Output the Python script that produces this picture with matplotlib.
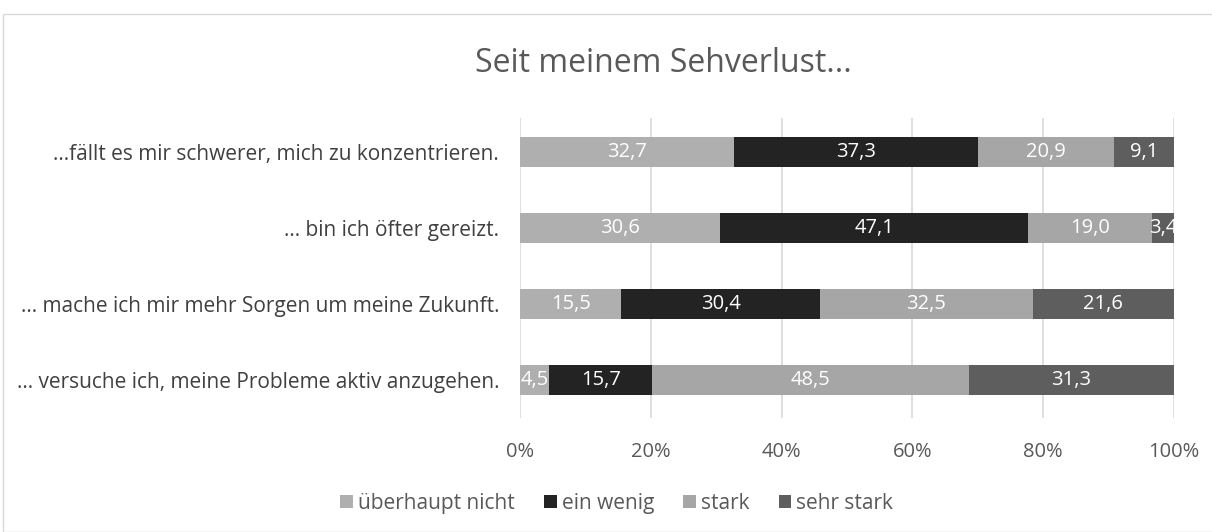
import numpy as np
import matplotlib.pyplot as plt
from matplotlib.patches import Rectangle

plt.rcParams['font.family'] = ['Open Sans', 'DejaVu Sans']

categories = [
    '…fällt es mir schwerer, mich zu konzentrieren.',
    '… bin ich öfter gereizt.',
    '… mache ich mir mehr Sorgen um meine Zukunft.',
    '… versuche ich, meine Probleme aktiv anzugehen.',
]
series_names = ['überhaupt nicht', 'ein wenig', 'stark', 'sehr stark']
ueberhaupt_nicht = [32.7, 30.6, 15.5, 4.5]
ein_wenig = [37.3, 47.1, 30.4, 15.7]
stark = [20.9, 19.0, 32.5, 48.5]
sehr_stark = [9.1, 3.4, 21.6, 31.3]
colors = ['#AFAFAF', '#232323', '#A6A6A6', '#5E5E5E']
xticks = [0, 20, 40, 60, 80, 100]

fig = plt.figure(figsize=(12.12, 5.32), dpi=100)
ax = fig.add_axes([0.429, 0.2143, 0.5396, 0.564])

# border round the chart
fig.patches.append(Rectangle((3 / 1212, 0.0), 1.0, 1 - 14 / 532, transform=fig.transFigure,
                             fill=False, edgecolor='#D9D9D9', linewidth=1.0))

y = np.arange(len(categories))
left = np.zeros(len(categories))
for name, vals, col in zip(series_names, [ueberhaupt_nicht, ein_wenig, stark, sehr_stark], colors):
    vals = np.array(vals)
    ax.barh(y, vals, left=left, height=0.4, color=col, label=name, zorder=3)
    for yi, l, v in zip(y, left, vals):
        ax.text(l + v / 2, yi, f'{v:.1f}'.replace('.', ','), ha='center', va='center',
                color='white', fontsize=14.5, zorder=4, clip_on=True)
    left += vals

ax.set_xlim(0, 100)
ax.set_ylim(3.5, -0.45)
ax.set_yticks(y)
ax.set_yticklabels(categories, fontsize=15, color='#404040')
ax.set_xticks(xticks)
ax.set_xticklabels([f'{t}%' for t in xticks], fontsize=14.5, color='#595959')
ax.tick_params(length=0)
ax.tick_params(axis='x', pad=17)
ax.tick_params(axis='y', pad=15)
ax.grid(axis='x', color='#D9D9D9', linewidth=1.2, zorder=0)
for s in ax.spines.values():
    s.set_visible(False)

fig.text(0.547, 0.88, 'Seit meinem Sehverlust...', ha='center', va='center',
         fontsize=23, color='#595959')

fig.legend(loc='center', bbox_to_anchor=(0.509, 0.054), ncol=4, frameon=False,
           fontsize=15, handlelength=0.6, handleheight=0.6, handletextpad=0.25,
           columnspacing=1.4, labelcolor='#595959')

plt.savefig('out.png', dpi=100)
